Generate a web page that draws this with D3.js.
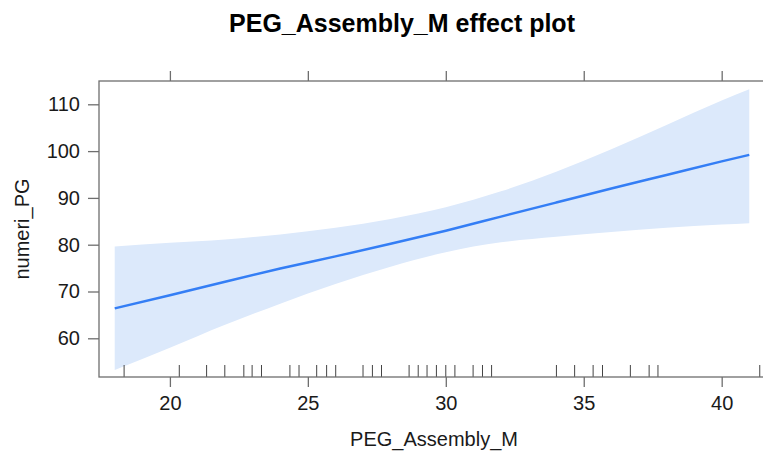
<!DOCTYPE html>
<html>
<head>
<meta charset="utf-8">
<script src="https://d3js.org/d3.v7.min.js"></script>
<style>
  html, body { margin: 0; padding: 0; background: #fff; overflow: hidden; }
  svg { display: block; font-family: "Liberation Sans", Arial, sans-serif; }
</style>
</head>
<body>
<svg id="chart" width="763" height="454"></svg>
<script>
// ---- data ----
const gridX  = [18, 20, 22, 24, 26, 28, 30, 32, 34, 36, 38, 40, 41];
const fitY   = [66.4, 69.2, 72.1, 74.9, 77.5, 80.2, 83.0, 86.0, 89.0, 92.0, 94.9, 97.8, 99.2];
const lowerY = [53.2, 58.0, 62.9, 67.4, 71.6, 75.3, 78.4, 80.5, 81.7, 82.7, 83.6, 84.3, 84.6];
const upperY = [79.6, 80.4, 81.1, 82.2, 83.6, 85.5, 88.0, 91.4, 95.6, 100.4, 105.6, 110.8, 113.2];
const rugX   = [18.34, 20.34, 21.33, 21.99, 22.68, 22.98, 23.32, 24.35, 24.68, 25.32, 25.68, 26.01,
                27.00, 27.34, 27.67, 28.67, 29.00, 29.32, 29.66, 30.00, 30.33, 30.99, 31.33, 31.66,
                34.01, 34.67, 35.34, 35.68, 36.69, 37.37, 37.69, 41.38];
const xTicks = [20, 25, 30, 35, 40];
const yTicks = [60, 70, 80, 90, 100, 110];
const titleText = "PEG_Assembly_M effect plot";
const xLabel = "PEG_Assembly_M";
const yLabel = "numeri_PG";

// ---- layout ----
const svg = d3.select("#chart");
const L = 99, R = 765, T = 81, B = 377;
const x = d3.scaleLinear().domain([17.43, 41.57]).range([L, R]);
const y = d3.scaleLinear().domain([51.73, 114.98]).range([B, T]);

const frameColor = "#6e6e6e";
const textColor = "#1a1a1a";

const rows = gridX.map((gx, i) => ({ x: gx, fit: fitY[i], lo: lowerY[i], hi: upperY[i] }));

// band
svg.append("path")
  .datum(rows)
  .attr("fill", "#dce9fb")
  .attr("stroke", "none")
  .attr("d", d3.area().x(d => x(d.x)).y0(d => y(d.lo)).y1(d => y(d.hi)).curve(d3.curveMonotoneX));

// fit line
svg.append("path")
  .datum(rows)
  .attr("fill", "none")
  .attr("stroke", "#347ef5")
  .attr("stroke-width", 2.5)
  .attr("d", d3.line().x(d => x(d.x)).y(d => y(d.fit)).curve(d3.curveMonotoneX));

// rug
svg.append("g").selectAll("line").data(rugX).join("line")
  .attr("x1", d => x(d)).attr("x2", d => x(d))
  .attr("y1", B).attr("y2", B - 12)
  .attr("stroke", "#444").attr("stroke-width", 1);

// frame
svg.append("rect")
  .attr("x", L).attr("y", T).attr("width", R - L).attr("height", B - T)
  .attr("fill", "none").attr("stroke", frameColor).attr("stroke-width", 1.3);

// axes
const axB = svg.append("g").attr("transform", `translate(0,${B})`)
  .call(d3.axisBottom(x).tickValues(xTicks).tickSize(10).tickPadding(9).tickSizeOuter(0));
const axT = svg.append("g").attr("transform", `translate(0,${T})`)
  .call(d3.axisTop(x).tickValues(xTicks).tickSize(10).tickFormat("").tickSizeOuter(0));
const axL = svg.append("g").attr("transform", `translate(${L},0)`)
  .call(d3.axisLeft(y).tickValues(yTicks).tickSize(11).tickPadding(8).tickSizeOuter(0));

[axB, axT, axL].forEach(g => {
  g.select(".domain").remove();
  g.selectAll(".tick line").attr("stroke", frameColor).attr("stroke-width", 1.3);
  g.selectAll(".tick text").attr("fill", textColor)
    .style("font-family", "'Liberation Sans', Arial, sans-serif")
    .style("font-size", "20px");
});

// title
svg.append("text")
  .attr("x", 402).attr("y", 32)
  .attr("text-anchor", "middle")
  .attr("fill", "#000")
  .style("font-weight", "bold").style("font-size", "25px")
  .text(titleText);

// axis labels
svg.append("text")
  .attr("x", 434).attr("y", 446)
  .attr("text-anchor", "middle").attr("fill", textColor)
  .style("font-size", "20px")
  .text(xLabel);

svg.append("text")
  .attr("transform", `translate(29,229) rotate(-90)`)
  .attr("text-anchor", "middle").attr("fill", textColor)
  .style("font-size", "20px")
  .text(yLabel);
</script>
</body>
</html>
